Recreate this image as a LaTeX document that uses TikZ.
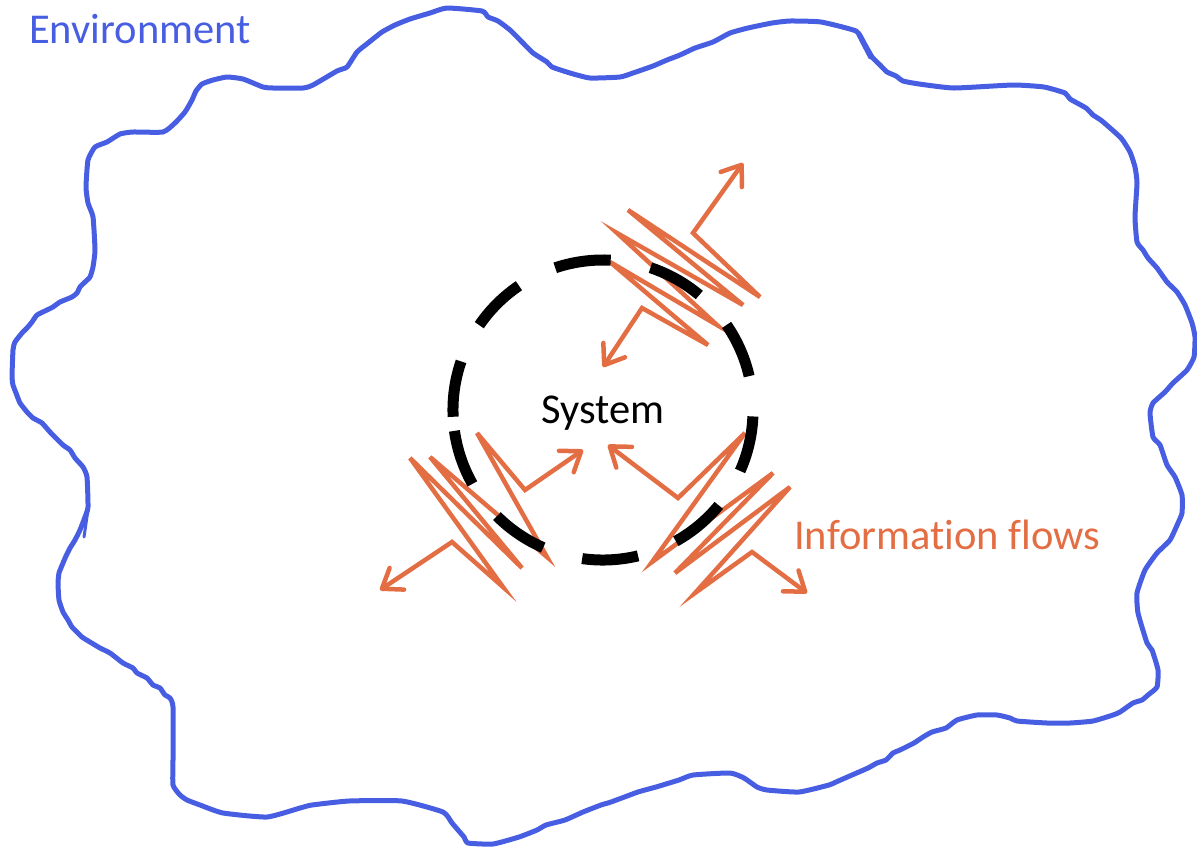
\documentclass[tikz,border=0pt]{standalone}
\usepackage{fontspec}
\setmainfont{Carlito}[Ligatures={NoCommon}]
\usetikzlibrary{arrows.meta}

\definecolor{envblue}{RGB}{72,94,226}
\definecolor{flowor}{RGB}{228,110,68}

\tikzset{
  envline/.style={draw=envblue, line width=5pt, line join=round, line cap=round},
  sysring/.style={draw=black, line width=11pt, dash pattern=on 56.3pt off 40.6pt},
  barb/.tip={Straight Barb[length=18pt, width=26pt, line width=4.5pt, round]},
  flow/.style={draw=flowor, line width=4.5pt, barb-barb},
  label/.style={inner sep=0pt, font=\fontsize{42.5}{50}\selectfont},
}

\begin{document}
\begin{tikzpicture}[x=1pt, y=-1pt]
\useasboundingbox (0,0) rectangle (1197,847);

% environment boundary (hand-drawn blob)
\draw[envline] plot[smooth cycle, tension=0.3] coordinates {
 (88,160) (95,147) (107,142) (120,134) (133,132) (163,132) (175,123) (185,112)
 (192,100) (196,91) (202,84) (213,80) (227,77) (243,79) (263,87) (273,88)
 (303,88) (313,85) (337,71) (347,67) (357,52) (368,43) (382,32) (395,25)
 (410,19) (430,13) (447,8) (482,11) (488,17) (498,21) (510,30) (523,43)
 (533,53) (547,62) (552,67) (570,73) (590,78) (620,77) (633,73) (653,66)
 (667,60) (680,55) (695,48) (713,42) (730,33) (748,28) (772,23) (790,21)
 (821,22) (856,31) (864,43) (872,57) (880,65) (887,72) (896,76) (903,81)
 (919,84) (954,88) (1013,85) (1044,87) (1065,93) (1070,99) (1086,108) (1093,115)
 (1102,121) (1121,138) (1130,152) (1135,167) (1137,183) (1135,217) (1137,242) (1143,250)
 (1148,258) (1157,268) (1167,282) (1177,292) (1185,305) (1192,323) (1195,337) (1194,357)
 (1187,370) (1173,383) (1165,392) (1153,403) (1150,413) (1153,437) (1160,445) (1167,465)
 (1175,477) (1182,495) (1182,513) (1178,523) (1170,540) (1157,553) (1145,570) (1137,593)
 (1138,613) (1147,643) (1152,650) (1158,670) (1157,687) (1148,695) (1142,700) (1133,703)
 (1120,712) (1113,715) (1093,721) (1070,723) (1047,723) (1017,721) (1010,718) (997,715)
 (977,715) (957,720) (946,728) (932,732) (923,737) (914,743) (900,750) (893,753)
 (886,760) (877,763) (868,768) (852,775) (836,782) (829,785) (799,792) (767,790)
 (757,787) (744,778) (730,773) (693,775) (679,780) (656,787) (638,792) (611,802)
 (601,805) (583,812) (565,820) (546,825) (537,830) (519,837) (493,844) (468,843)
 (464,837) (452,823) (443,812) (402,801) (349,801) (312,805) (300,808) (267,817)
 (223,813) (200,805) (187,800) (180,795) (173,785) (173,760) (173,707) (170,698)
 (165,695) (160,688) (153,685) (147,678) (137,673) (133,668) (123,663) (110,653)
 (100,648) (90,642) (82,637) (72,627) (68,620) (63,612) (59,600) (58,583)
 (59,573) (63,563) (66,556) (70,548) (75,540) (80,530) (85,517) (88,507)
 (87,477) (83,467) (75,458) (70,450) (63,445) (50,432) (42,423) (33,418)
 (27,412) (20,403) (16,393) (13,385) (12,377) (13,350) (15,342) (22,333)
 (27,328) (32,322) (37,315) (47,310) (53,307) (60,302) (72,297) (77,293)
 (80,287) (85,282) (90,277) (93,267) (95,250) (93,217) (88,203) (86,187)
};
% small pen slips along the boundary
\draw[envline, line width=3pt] (88,510) -- (84,537);
\draw[envline, line width=3pt] (858,35) -- (870,58);

% information flows: double-headed zigzag arrows
\coordinate (a1) at (743,163);  \coordinate (a2) at (603,367);
\draw[flow] (a1) -- (693,233) -- (760,297) -- (628,210) -- (743,305)
  -- (617,233) -- (717,325) -- (610,262) -- (708,345) -- (642,308) -- (a2);

\coordinate (b1) at (583,450);  \coordinate (b2) at (380,590);
\draw[flow] (b1) -- (525,490) -- (477,433) -- (547,557) -- (430,457)
  -- (522,568) -- (410,458) -- (503,587) -- (452,542) -- (b2);

\coordinate (c1) at (608,445);  \coordinate (c2) at (807,593);
\draw[flow] (c1) -- (678,498) -- (745,433) -- (652,562) -- (773,473)
  -- (675,573) -- (790,487) -- (695,593) -- (752,552) -- (c2);

% system boundary: dashed ring
\coordinate (sys) at (603,410);
\draw[sysring] (sys) ++(-188:150) arc[start angle=-188, end angle=-548, radius=150];

% labels
\node[label, text=envblue, anchor=base west] (env) at (29,43) {Environment};
\node[label, text=black, anchor=base] (system) at (603,423) {System};
\node[label, text=flowor, anchor=base west] (flows) at (794,549) {Information flows};
\end{tikzpicture}
\end{document}
